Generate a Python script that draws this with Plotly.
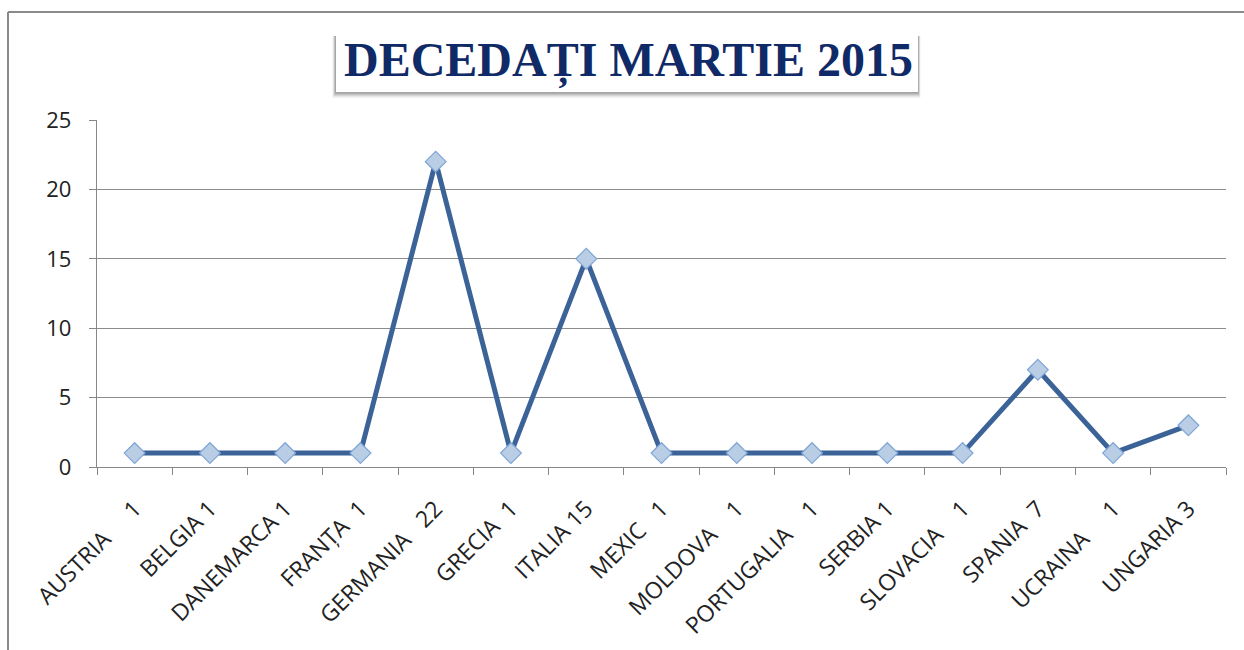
import plotly.graph_objects as go

countries = ["AUSTRIA", "BELGIA", "DANEMARCA", "FRANȚA", "GERMANIA", "GRECIA", "ITALIA",
             "MEXIC", "MOLDOVA", "PORTUGALIA", "SERBIA", "SLOVACIA", "SPANIA", "UCRAINA", "UNGARIA"]
deaths = [1, 1, 1, 1, 22, 1, 15, 1, 1, 1, 1, 1, 7, 1, 3]
gaps = [5, 1, 1, 2, 3, 2, 1, 3, 4, 4, 1, 4, 2, 5, 1]
y_ticks = [0, 5, 10, 15, 20, 25]

NB = "\u00a0"
labels = [f"{c}{NB * g}{v}" for c, v, g in zip(countries, deaths, gaps)]

W, H = 1244, 650
L, R, T, B = 97, 1226, 120, 467

def px(x):
    return (x - L) / (R - L)

def py(y):
    return (B - y) / (B - T)

fig = go.Figure()
fig.add_trace(go.Scatter(
    x=labels, y=deaths, mode="lines+markers",
    line=dict(color="#3b6398", width=5),
    marker=dict(symbol="diamond", size=16, color="#b9cde5",
                line=dict(color="#7fa5d6", width=1.2)),
    hoverinfo="x+y", showlegend=False,
))

shapes = []
for i, op in enumerate([0.08, 0.12, 0.18, 0.25]):
    d = 6 - i * 1.4
    shapes.append(dict(type="rect", xref="paper", yref="paper",
                       x0=px(336 - d * 0.6), x1=px(918 + d * 0.4), y0=py(92 + d), y1=py(36),
                       fillcolor=f"rgba(80,80,80,{op})", line=dict(width=0), layer="above"))
shapes.append(dict(type="rect", xref="paper", yref="paper",
                   x0=px(336), x1=px(918), y0=py(92), y1=py(33),
                   fillcolor="white", line=dict(width=0), layer="above"))
shapes.append(dict(type="line", xref="paper", yref="paper",
                   x0=px(8), x1=px(1244), y0=py(12), y1=py(12),
                   line=dict(color="#8a8a8a", width=2), layer="above"))
shapes.append(dict(type="line", xref="paper", yref="paper",
                   x0=px(8), x1=px(8), y0=py(12), y1=py(650),
                   line=dict(color="#8a8a8a", width=2), layer="above"))

fig.update_layout(
    width=W, height=H,
    margin=dict(l=L, r=W - R, t=T, b=H - B, pad=0, autoexpand=False),
    paper_bgcolor="white", plot_bgcolor="white",
    shapes=shapes,
    annotations=[dict(
        text="<b>DECEDAȚI MARTIE 2015</b>", xref="paper", yref="paper",
        x=px(628), y=py(61), xanchor="center", yanchor="middle", showarrow=False,
        font=dict(family="Liberation Serif, Times New Roman, serif", size=48, color="#0f2a66"),
    )],
    xaxis=dict(
        type="category", tickangle=-45, tickson="boundaries", automargin=False,
        ticks="outside", ticklen=7, tickcolor="#878787", tickwidth=1.3,
        ticklabelstandoff=18,
        showline=True, linecolor="#878787", linewidth=1.3, showgrid=False,
        tickfont=dict(family="Open Sans, Liberation Sans, sans-serif", size=23, color="#222222"),
        range=[-0.5, len(labels) - 0.5],
    ),
    yaxis=dict(
        range=[0, 25], tickvals=y_ticks, ticks="outside", ticklen=7, automargin=False,
        tickcolor="#878787", tickwidth=1.3, ticklabelstandoff=13,
        showline=True, linecolor="#878787", linewidth=1.3,
        showgrid=True, gridcolor="#8c8c8c", gridwidth=1.2, zeroline=False,
        tickfont=dict(family="Open Sans, Liberation Sans, sans-serif", size=22, color="#222222"),
    ),
)

fig.write_html("out.html", config={"displayModeBar": False},
               post_script="document.body.style.margin='0px';")
